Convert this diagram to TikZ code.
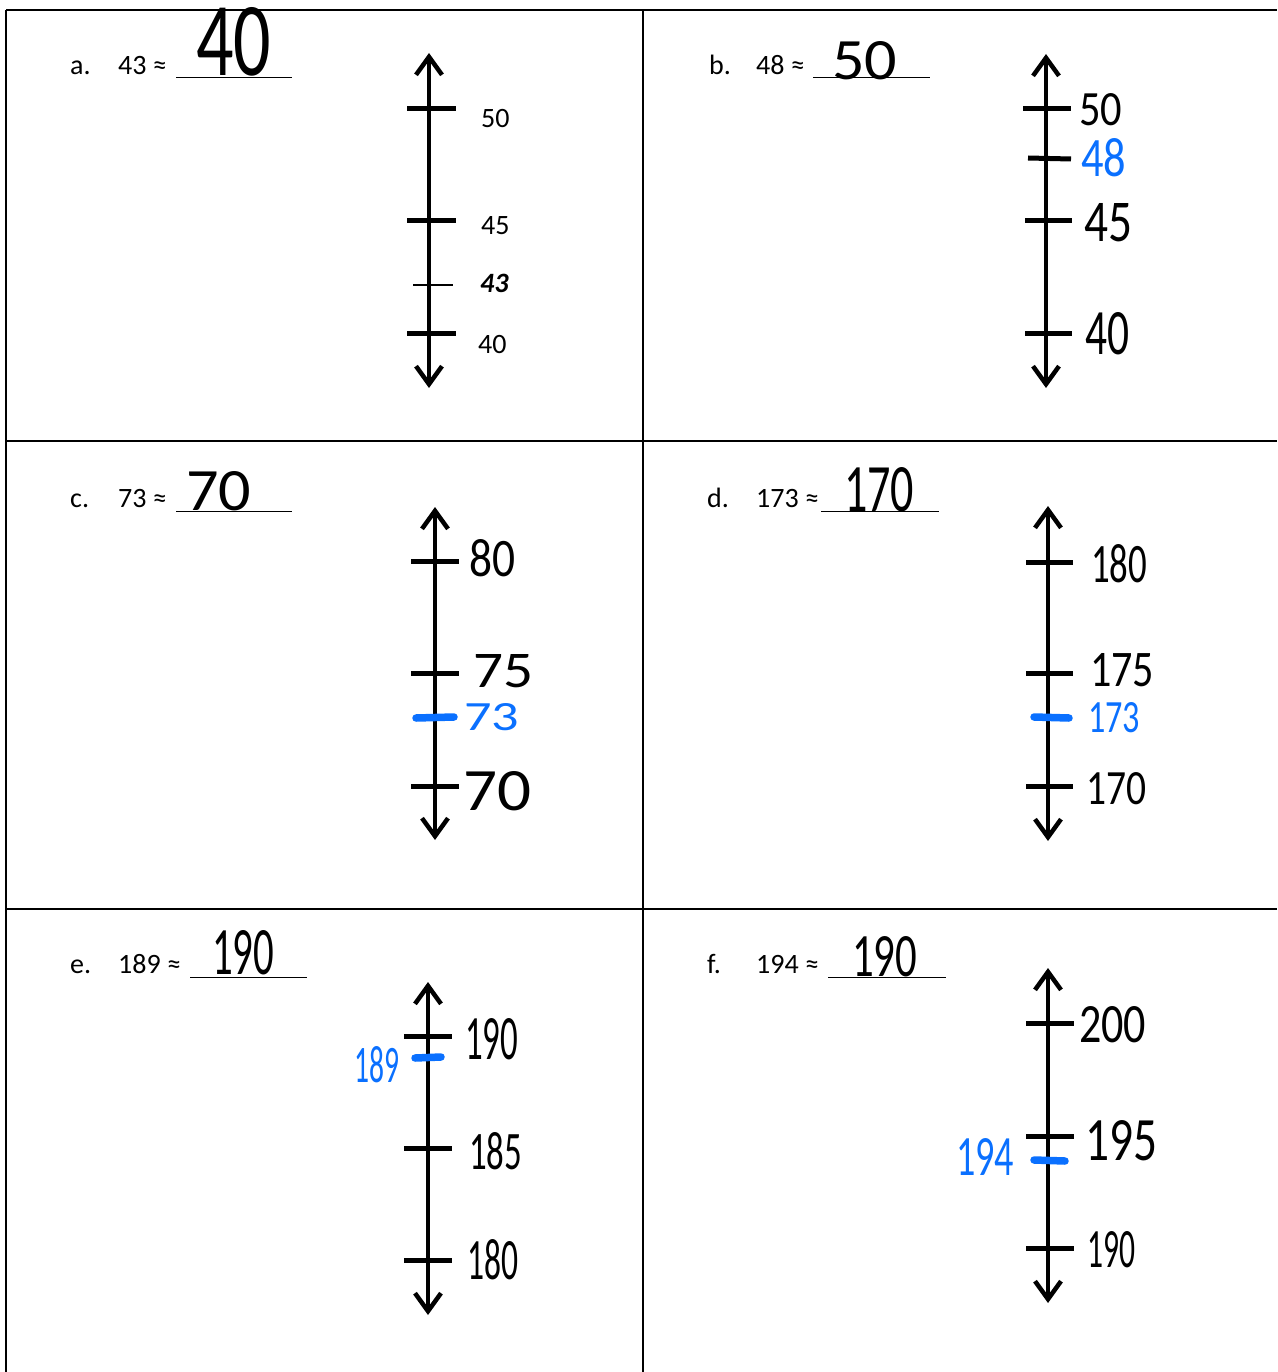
\documentclass[tikz,border=0pt]{standalone}
\usepackage{fontspec}
\setmainfont{Carlito}
\usetikzlibrary{arrows.meta}
\definecolor{pen}{RGB}{10,112,255}
\tikzset{
  gridline/.style={line width=2pt},
  axis/.style={line width=4.5pt,
    {Straight Barb[length=18pt,width=26pt]}-{Straight Barb[length=18pt,width=26pt]}},
  tickmark/.style={line width=5pt},
  thintick/.style={line width=2.2pt},
  bluetick/.style={line width=7.5pt, pen, line cap=round},
  printed/.style={inner sep=0pt, anchor=base west, font=\fontsize{28}{31}\selectfont},
  blank/.style={line width=1pt},
  hw/.style={inner sep=0pt, anchor=south west},
}
\newcommand{\hwt}[3]{\resizebox{#1pt}{#2pt}{#3}}
\begin{document}
\begin{tikzpicture}[x=1pt,y=-1pt]
\useasboundingbox (0,0) rectangle (1277,1372);
% table grid
\draw[gridline] (6,10) -- (1277,10);
\draw[gridline] (6,441) -- (1277,441);
\draw[gridline] (6,909) -- (1277,909);
\draw[gridline] (6,10) -- (6,1372);
\draw[gridline] (643,10) -- (643,1372);

% ---------- a ----------
\node[printed] (a-lbl) at (70,75) {a.};
\node[printed] (a-q) at (118,75) {43 ≈};
\draw[blank] (176,78) -- (292,78);
\node[hw] (a-ans) at (196,76) {\hwt{75}{68}{40}};
\coordinate (a-top) at (429,53);
\coordinate (a-bot) at (429,388);
\draw[axis] (a-bot) -- (a-top);
\draw[tickmark] (407,109) -- (456,109);
\draw[tickmark] (407,221) -- (456,221);
\draw[thintick] (413,285) -- (453,285);
\draw[tickmark] (407,333) -- (456,333);
\node[printed] (a-50) at (481,128) {50};
\node[printed] (a-45) at (481,235) {45};
\node[printed,font=\fontsize{28}{31}\selectfont\bfseries\itshape] (a-43) at (480,292) {43};
\node[printed] (a-40) at (478,353) {40};

% ---------- b ----------
\node[printed] (b-lbl) at (709,75) {b.};
\node[printed] (b-q) at (756,75) {48 ≈};
\draw[blank] (813,78) -- (930,78);
\node[hw] (b-ans) at (832,80) {\hwt{65}{38}{50}};
\coordinate (b-top) at (1046,54);
\coordinate (b-bot) at (1046,388);
\draw[axis] (b-bot) -- (b-top);
\draw[tickmark] (1023,109) -- (1071,109);
\draw[tickmark] (1028,158) -- (1071,159);
\draw[tickmark] (1025,221) -- (1072,221);
\draw[tickmark] (1025,333) -- (1072,333);
\node[hw] (b-50) at (1079,126) {\hwt{43}{32}{50}};
\node[hw,pen] (b-48) at (1081,177) {\hwt{45}{38}{48}};
\node[hw] (b-45) at (1084,242) {\hwt{48}{38}{45}};
\node[hw] (b-40) at (1085,355) {\hwt{44}{42}{40}};

% ---------- c ----------
\node[printed] (c-lbl) at (70,507) {c.};
\node[printed] (c-q) at (118,507) {73 ≈};
\draw[blank] (176,511) -- (292,511);
\node[hw] (c-ans) at (186,511) {\hwt{65}{39}{70}};
\coordinate (c-top) at (435,507);
\coordinate (c-bot) at (435,840);
\draw[axis] (c-bot) -- (c-top);
\draw[tickmark] (411,561) -- (459,561);
\draw[tickmark] (411,673) -- (459,673);
\draw[tickmark] (411,786) -- (459,786);
\draw[bluetick] (416,718) -- (454,717);
\node[hw] (c-80) at (469,577) {\hwt{46}{37}{80}};
\node[hw] (c-75) at (473,688) {\hwt{60}{33}{75}};
\node[hw,pen] (c-73) at (464,731) {\hwt{55}{27}{73}};
\node[hw] (c-70) at (463,811) {\hwt{68}{39}{70}};

% ---------- d ----------
\node[printed] (d-lbl) at (707,507) {d.};
\node[printed] (d-q) at (756,507) {173 ≈};
\draw[blank] (821,511) -- (939,511);
\node[hw] (d-ans) at (844,512) {\hwt{70}{44}{170}};
\coordinate (d-top) at (1048,506);
\coordinate (d-bot) at (1048,841);
\draw[axis] (d-bot) -- (d-top);
\draw[tickmark] (1026,562) -- (1073,562);
\draw[tickmark] (1026,673) -- (1073,673);
\draw[tickmark] (1026,786) -- (1073,786);
\draw[bluetick] (1034,717) -- (1069,718);
\node[hw] (d-180) at (1091,583) {\hwt{56}{38}{180}};
\node[hw] (d-175) at (1090,687) {\hwt{64}{33}{175}};
\node[hw,pen] (d-173) at (1088,733) {\hwt{52}{30}{173}};
\node[hw] (d-170) at (1086,805) {\hwt{60}{32}{170}};

% ---------- e ----------
\node[printed] (e-lbl) at (70,973) {e.};
\node[printed] (e-q) at (118,973) {189 ≈};
\draw[blank] (190,977) -- (307,977);
\node[hw] (e-ans) at (212,975) {\hwt{62}{44}{190}};
\coordinate (e-top) at (428,982);
\coordinate (e-bot) at (428,1315);
\draw[axis] (e-bot) -- (e-top);
\draw[tickmark] (404,1036) -- (452,1036);
\draw[tickmark] (404,1148) -- (452,1148);
\draw[tickmark] (404,1260) -- (452,1260);
\draw[bluetick] (415,1058) -- (441,1057);
\node[hw] (e-190) at (465,1060) {\hwt{53}{41}{190}};
\node[hw] (e-185) at (469,1170) {\hwt{53}{37}{185}};
\node[hw] (e-180) at (467,1280) {\hwt{51}{40}{180}};
\node[hw,pen] (e-189) at (354,1083) {\hwt{45}{36}{189}};

% ---------- f ----------
\node[printed] (f-lbl) at (707,973) {f.};
\node[printed] (f-q) at (756,973) {194 ≈};
\draw[blank] (828,977) -- (946,977);
\node[hw] (f-ans) at (852,977) {\hwt{65}{40}{190}};
\coordinate (f-top) at (1048,968);
\coordinate (f-bot) at (1048,1303);
\draw[axis] (f-bot) -- (f-top);
\draw[tickmark] (1026,1023) -- (1074,1023);
\draw[tickmark] (1026,1136) -- (1074,1136);
\draw[tickmark] (1026,1248) -- (1074,1248);
\draw[bluetick] (1034,1160) -- (1065,1161);
\node[hw] (f-200) at (1079,1043) {\hwt{67}{36}{200}};
\node[hw] (f-195) at (1085,1161) {\hwt{72}{40}{195}};
\node[hw] (f-190) at (1087,1268) {\hwt{48}{36}{190}};
\node[hw,pen] (f-194) at (956,1176) {\hwt{58}{37}{194}};
\end{tikzpicture}
\end{document}
